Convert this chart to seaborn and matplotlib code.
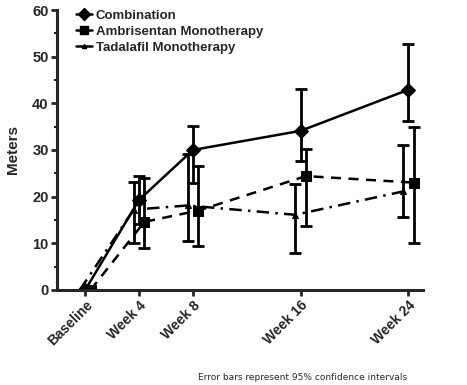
import numpy as np
import pandas as pd
import matplotlib
matplotlib.use("Agg")
import matplotlib.pyplot as plt
import seaborn as sns

# data
weeks = [0, 4, 8, 16, 24]
week_labels = ["Baseline", "Week 4", "Week 8", "Week 16", "Week 24"]
groups = ["Combination", "Ambrisentan Monotherapy", "Tadalafil Monotherapy"]

combo_mean = [0, 19.3, 30.0, 34.1, 42.9]
combo_low = [0, 14.2, 23.0, 27.7, 36.3]
combo_high = [0, 24.4, 35.2, 43.1, 52.7]

ambri_mean = [0, 14.6, 17.0, 24.4, 23.0]
ambri_low = [0, 9.0, 9.5, 13.7, 10.0]
ambri_high = [0, 24.0, 26.6, 30.3, 34.9]

tada_mean = [0, 17.2, 18.1, 16.1, 21.1]
tada_low = [0, 10.1, 10.4, 7.9, 15.6]
tada_high = [0, 23.1, 29.1, 22.7, 31.1]

offsets = {"Combination": 0.0, "Ambrisentan Monotherapy": 0.4, "Tadalafil Monotherapy": -0.4}
markers = {"Combination": "D", "Ambrisentan Monotherapy": "s", "Tadalafil Monotherapy": "^"}
msizes = {"Combination": 7, "Ambrisentan Monotherapy": 7, "Tadalafil Monotherapy": 4}
dashes = {"Combination": "", "Ambrisentan Monotherapy": (4, 3), "Tadalafil Monotherapy": (5, 2.5, 1, 2.5)}

rows = []
for g, m, lo, hi in zip(groups, [combo_mean, ambri_mean, tada_mean],
                        [combo_low, ambri_low, tada_low], [combo_high, ambri_high, tada_high]):
    for w, v, l, h in zip(weeks, m, lo, hi):
        rows.append({"group": g, "week": w + offsets[g], "value": v, "low": l, "high": h})
df = pd.DataFrame(rows)

sns.set_style("ticks")
plt.rcParams["font.family"] = ["Liberation Sans", "DejaVu Sans"]
plt.rcParams["font.weight"] = "bold"

fig = plt.figure(figsize=(4.67, 3.85), dpi=100)
ax = fig.add_axes([0.122, 0.247, 0.784, 0.727])

sns.lineplot(data=df, x="week", y="value", hue="group", style="group",
             palette={g: "black" for g in groups}, markers=markers, dashes=dashes,
             linewidth=1.8, markeredgecolor="black", ax=ax, legend=False)
for line, g in zip(ax.lines, groups):
    line.set_markersize(msizes[g])

for g in groups:
    d = df[df.group == g]
    ax.errorbar(d.week, d.value, yerr=[d.value - d.low, d.high - d.value],
                fmt="none", ecolor="black", elinewidth=2, capsize=4, capthick=2)

ax.set_xlim(-2.1, 25.1)
ax.set_ylim(0, 60)
ax.set_yticks(range(0, 61, 10))
ax.set_yticks(range(5, 60, 10), minor=True)
ax.set_xticks(weeks)
ax.set_xticklabels(week_labels, rotation=45, ha="right", rotation_mode="anchor",
                   fontsize=10, fontweight="bold")
for t in ax.get_yticklabels():
    t.set_fontsize(10.5)
    t.set_fontweight("bold")
ax.set_xlabel("")
ax.set_ylabel("Meters", fontsize=11, fontweight="bold", labelpad=9)
sns.despine(ax=ax)
for s in ["left", "bottom"]:
    ax.spines[s].set_linewidth(2.2)
ax.tick_params(axis="both", which="major", width=2, length=4, pad=2)
ax.tick_params(axis="y", which="minor", width=1.5, length=2.5)

handles = []
for g in groups:
    h, = ax.plot([], [], color="black", marker=markers[g], markersize=msizes[g] - 1,
                 linewidth=1.8, linestyle="-")
    handles.append(h)
ax.legend(handles, groups, loc="upper left", bbox_to_anchor=(0.02, 1.045), frameon=False,
          handlelength=1.2, handletextpad=0.3, labelspacing=0.3,
          prop={"size": 9.5, "weight": "bold"})

fig.text(0.425, 0.012, "Error bars represent 95% confidence intervals",
         fontsize=6.5, fontweight="normal", family=["DejaVu Sans"])

fig.savefig("out.png", dpi=100)
